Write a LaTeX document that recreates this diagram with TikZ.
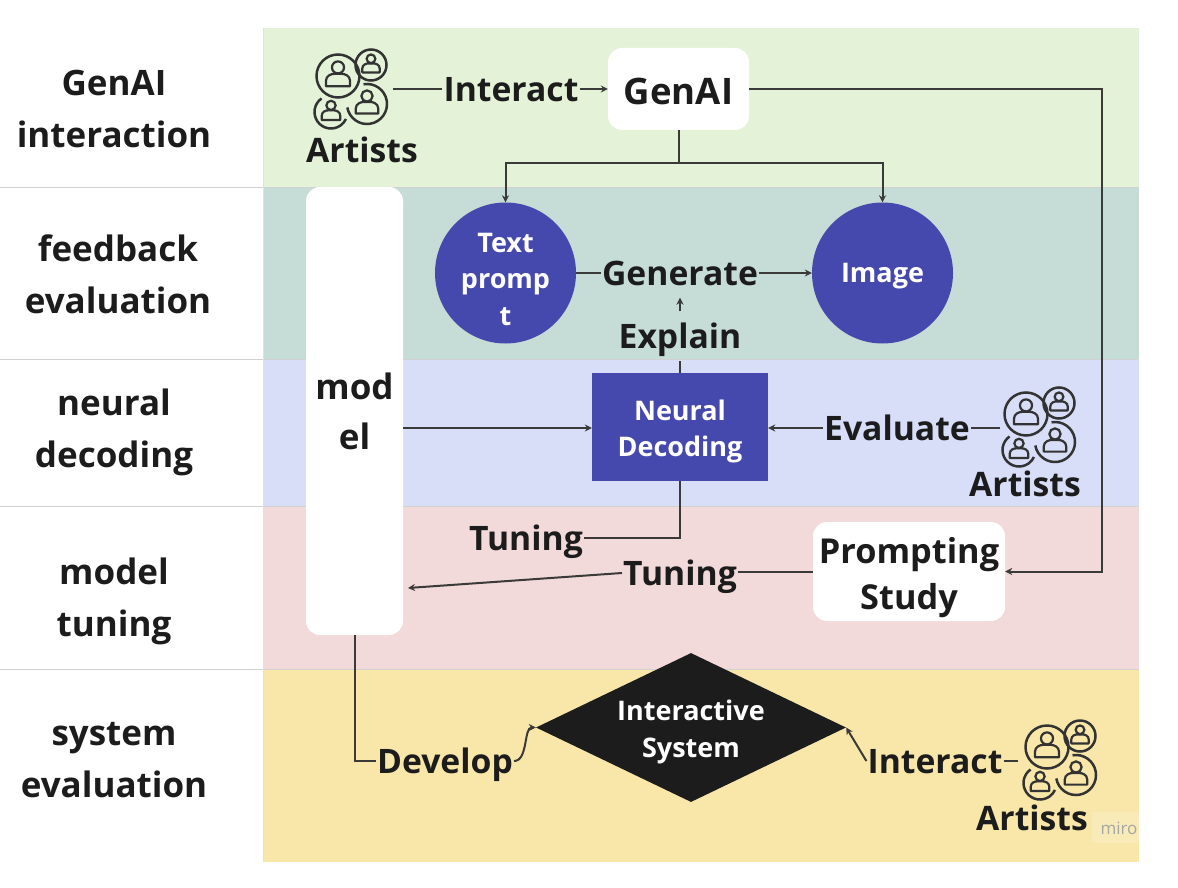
\documentclass[tikz,border=0pt]{standalone}
\usepackage{fontspec}
\setmainfont{Open Sans}
\usetikzlibrary{shapes.geometric,arrows.meta}
\definecolor{bandgreen}{HTML}{E4F3D8}
\definecolor{bandteal}{HTML}{C6DCD6}
\definecolor{bandblue}{HTML}{D8DDF8}
\definecolor{bandpink}{HTML}{F3DADA}
\definecolor{bandyellow}{HTML}{F8E7A9}
\definecolor{inkblue}{HTML}{4549AE}
\definecolor{ink}{HTML}{1C1C1C}
\definecolor{wire}{HTML}{3A3A38}
\newcommand{\personmark}{
  \draw (0,-.4) circle (.28);
  \draw[line join=round] (-.56,.48) -- (-.56,.22) .. controls (-.56,-.02) and (-.3,-.1) .. (-.18,-.1)
    -- (.18,-.1) .. controls (.3,-.1) and (.56,-.02) .. (.56,.22) -- (.56,.48) -- cycle;
}
\tikzset{
  lane/.style={font=\fontsize{35}{51.5}\selectfont\bfseries,text=ink,align=center,inner sep=0pt},
  word/.style={font=\fontsize{33.7}{40}\selectfont\bfseries,text=ink,inner sep=1pt,
    text height=24pt,text depth=0pt,minimum height=49pt},
  whitebox/.style={fill=white,rounded corners=14pt,inner sep=0pt},
  boxtext/.style={font=\fontsize{34.3}{46}\selectfont\bfseries,text=ink,align=center,inner sep=0pt},
  bluemark/.style={fill=inkblue,inner sep=0pt},
  bluetext/.style={font=\fontsize{27}{36.5}\selectfont\bfseries,text=white,align=center,inner sep=0pt},
  wirepath/.style={draw=wire,line width=2pt},
  arrowpath/.style={wirepath,-{Stealth[length=7pt,width=7pt]}},
  artistgroup/.pic={
    \begin{scope}[draw=ink!90,line width=2.5pt]
      \draw (0,0) circle (21.5);
      \draw (33,-11) circle (15.5);
      \draw (29,28) ++(-190:20) arc[start angle=-190,end angle=-460,radius=20];
      \draw (-7,36) ++(-125:16.5) arc[start angle=-125,end angle=-335,radius=16.5];
      \foreach \cx/\cy/\cr in {0/0/21.5,33/-11/15.5,29/28/20,-7/36/16.5}
        \begin{scope}[shift={(\cx,\cy)},scale=\cr,line width=2.2pt]
          \personmark
        \end{scope};
    \end{scope}
  }
}
\begin{document}
\begin{tikzpicture}[x=1pt,y=-1pt]
  \useasboundingbox[fill=white] (0,0) rectangle (1178,888);

  \fill[bandgreen] (263,28) rectangle (1139,187);
  \fill[bandteal] (263,187) rectangle (1139,359);
  \fill[bandblue] (263,359) rectangle (1139,506);
  \fill[bandpink] (263,506) rectangle (1139,669);
  \fill[bandyellow] (263,669) rectangle (1139,862);
  \foreach \laney in {187,359,506,669}
    \draw[black!18,line width=.8pt] (0,\laney) -- (1139,\laney);
  \draw[black!12,line width=.8pt] (263,28) -- (263,862);

  \node[lane] (lanegen) at (114,109) {GenAI\\interaction};
  \node[lane] (lanefeed) at (118,274.5) {feedback\\evaluation};
  \node[lane] (laneneural) at (114,432.5) {neural\\decoding};
  \node[lane] (lanetuning) at (114,601.5) {model\\tuning};
  \node[lane] (lanesystem) at (114,760) {system\\evaluation};

  \pic at (338,76) {artistgroup};
  \pic at (1026,414) {artistgroup};
  \pic at (1047,747) {artistgroup};

  \node[word] (artistsa) at (362,150) {Artists};
  \node[word] (artistsb) at (1025,484) {Artists};
  \node[word] (artistsc) at (1032,818) {Artists};
  \coordinate (groupa) at (393,89);
  \coordinate (groupb) at (1000,428);
  \coordinate (groupc) at (1018,761);

  \node[whitebox,minimum width=141pt,minimum height=82pt] (genai) at (678.5,89) {};
  \node[whitebox,minimum width=97pt,minimum height=448pt] (model) at (354.5,411) {};
  \node[whitebox,minimum width=192pt,minimum height=99pt] (prompting) at (909,571.5) {};
  \node[bluemark,circle,minimum size=141pt] (textprompt) at (505.5,273) {};
  \node[bluemark,circle,minimum size=141pt] (image) at (882.5,273) {};
  \node[bluemark,minimum width=176pt,minimum height=108pt] (decoding) at (680,427) {};
  \node[diamond,fill=ink,minimum width=310pt,minimum height=149pt,inner sep=0pt,aspect=2.08] (system) at (691,727.5) {};

  \node[boxtext,font=\fontsize{36.5}{46}\selectfont\bfseries] (genaitext) at (678.5,91) {GenAI};
  \node[boxtext,font=\fontsize{35}{50}\selectfont\bfseries] (modeltext) at (354.5,411) {mod\\el};
  \node[boxtext] (promptingtext) at (909,577.5) {Prompting\\Study};
  \node[bluetext] (textprompttext) at (505.5,279) {Text\\promp\\t};
  \node[bluetext] (imagetext) at (882.5,276) {Image};
  \node[bluetext] (decodingtext) at (680,431.5) {Neural\\Decoding};
  \node[bluetext] (systemtext) at (691,732) {Interactive\\System};

  \node[word] (interacta) at (511,90) {Interact};
  \node[word] (generate) at (680,273) {Generate};
  \node[word] (explain) at (680,336) {Explain};
  \node[word] (evaluate) at (897,428) {Evaluate};
  \node[word] (tuninga) at (526,538) {Tuning};
  \node[word] (tuningb) at (680,573) {Tuning};
  \node[word] (develop) at (445,761) {Develop};
  \node[word] (interactb) at (935,761) {Interact};

  \coordinate (splitgen) at (genai.south |- 0,163);
  \coordinate (backturn) at (1102,89);
  \coordinate (tuneend) at (408,588);

  \draw[wirepath] (groupa) -- (interacta.west |- groupa);
  \draw[arrowpath] (interacta.east |- groupa) -- (genai.west |- groupa);
  \draw[wirepath] (genai.south) -- (splitgen);
  \draw[arrowpath] (splitgen) -| (textprompt.north);
  \draw[arrowpath] (splitgen) -| (image.north);
  \draw[arrowpath] (genai.east |- groupa) -- (backturn) |- (prompting.east);
  \draw[wirepath] (textprompt.east) -- (generate.west);
  \draw[arrowpath] (generate.east) -- (image.west);
  \draw[wirepath] (decoding.north) -- (explain.south);
  \draw[arrowpath] (explain.north) -- (generate.south);
  \draw[arrowpath] (model.east |- evaluate) -- (decoding.west |- evaluate);
  \draw[arrowpath] (evaluate.west) -- (decoding.east |- evaluate);
  \draw[wirepath] (groupb) -- (evaluate.east);
  \draw[wirepath] (decoding.south) |- (tuninga.east);
  \draw[wirepath] (prompting.west) -- (tuningb.east |- prompting.west);
  \draw[arrowpath] (tuningb.west) -- (tuneend);
  \draw[wirepath] (model.south) |- (develop.west);
  \draw[arrowpath] (develop.east) .. controls +(14,0) and +(-12,0) .. (system.west);
  \draw[arrowpath] (interactb.west) -- (system.east);
  \draw[wirepath] (interactb.east) -- (groupc);

  \fill[white,opacity=.18] (1092,812) rectangle (1139,843);
  \node[text=black!35,font=\fontsize{17}{17}\selectfont,inner sep=0pt] (miro) at (1119,828) {miro};
\end{tikzpicture}
\end{document}
